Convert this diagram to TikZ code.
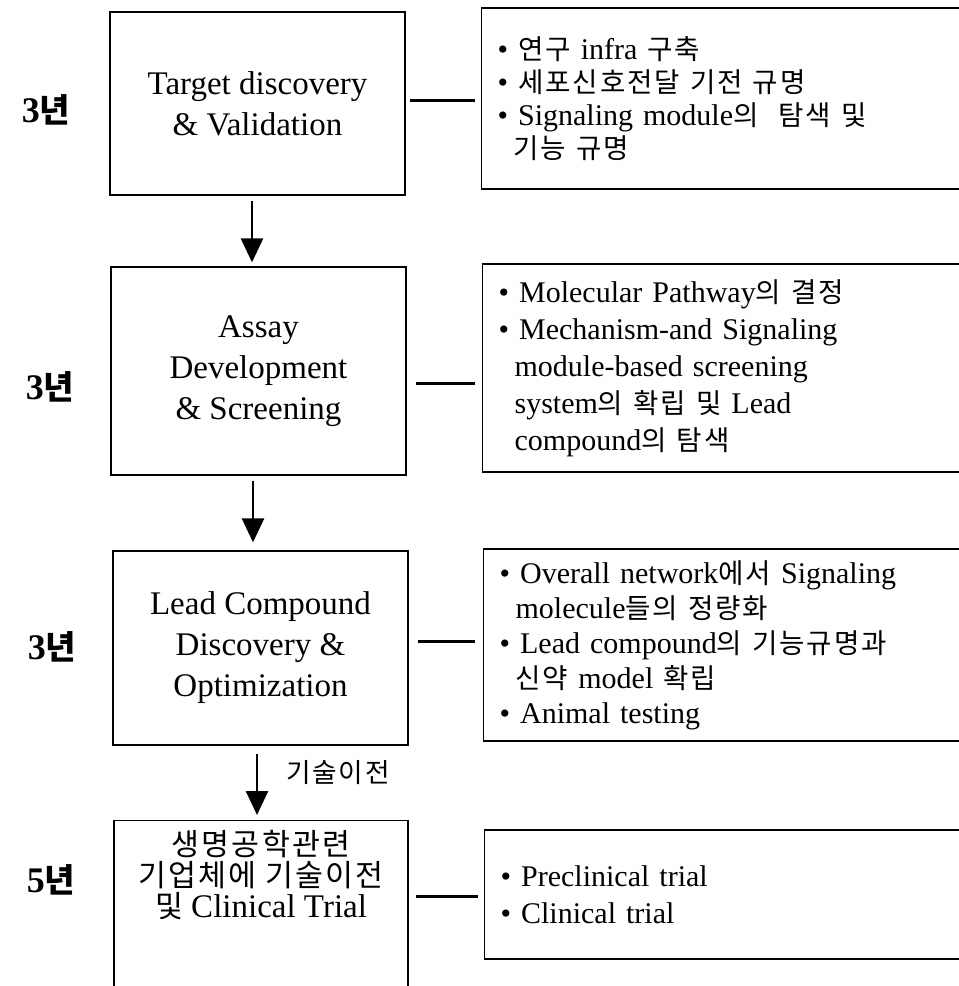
\documentclass[tikz,border=0pt]{standalone}
\usepackage{fontspec}
\setmainfont{Liberation Serif}
\newfontfamily\kr{Noto Sans CJK KR}[Scale=0.92,LetterSpace=7]
\newcommand{\K}[1]{{\kr #1}}
\newcommand{\cont}{\hspace*{16pt}}
\usetikzlibrary{arrows.meta,calc}
\begin{document}
\begin{tikzpicture}[x=1pt,y=-1pt,
  lbox/.style={draw, line width=1.3pt, minimum width=295pt, align=center, inner sep=0pt,
    font=\fontsize{33}{41}\selectfont},
  rbox/.style={draw, line width=1.3pt, anchor=west, inner xsep=16pt, inner ysep=0pt,
    text width=457pt, align=left},
  conn/.style={line width=3pt},
  flow/.style={line width=2.6pt, -{Triangle[length=24pt,width=22pt]}},
  yr/.style={font=\fontsize{36}{40}\selectfont\bfseries}]
\useasboundingbox (0,0) rectangle (959,986);
\clip (0,0) rectangle (959,986);

% left boxes
\node[lbox, minimum height=183pt] (b1) at (257.5,103.5) {Target discovery\\\& Validation};
\node[lbox, minimum height=208pt] (b2) at (258.5,371) {Assay\\Development\\\& Screening};
\node[lbox, minimum height=194pt] (b3) at (260.5,648) {Lead Compound\\Discovery \&\\Optimization};
\node[lbox, minimum width=294pt, minimum height=190pt, anchor=north] (b4) at (261,820) {};
\node[align=center, font=\fontsize{33}{31}\selectfont] (t4) at (261,875)
  {\K{생명공학관련}\\\K{기업체에 기술이전}\\\K{및} Clinical Trial};

% year labels
\node[yr] (y1) at (46,110) {3\K{년}};
\node[yr] (y2) at (50,387) {3\K{년}};
\node[yr] (y3) at (52,647) {3\K{년}};
\node[yr] (y4) at (51,880) {5\K{년}};

% right boxes
\node[rbox, minimum height=181pt, font=\fontsize{30}{33}\selectfont] (r1) at (481,98.5)
  {\textbullet\ \K{연구} infra \K{구축}\\
   \textbullet\ \K{세포신호전달 기전 규명}\\
   \textbullet\ Signaling module\K{의 \ 탐색 및}\\
   \cont\K{기능 규명}};
\node[rbox, minimum height=208pt, font=\fontsize{30}{37}\selectfont] (r2) at (482,368)
  {\textbullet\ Molecular Pathway\K{의 결정}\\
   \textbullet\ Mechanism-and Signaling\\
   \cont module-based screening\\
   \cont system\K{의 확립 및} Lead\\
   \cont compound\K{의 탐색}};
\node[rbox, minimum height=192pt, font=\fontsize{30}{35}\selectfont] (r3) at (483,645)
  {\textbullet\ Overall network\K{에서} Signaling\\
   \cont molecule\K{들의 정량화}\\
   \textbullet\ Lead compound\K{의 기능규명과}\\
   \cont\K{신약} model \K{확립}\\
   \textbullet\ Animal testing};
\node[rbox, minimum height=129pt, font=\fontsize{30}{37}\selectfont] (r4) at (484,894.5)
  {\textbullet\ Preclinical trial\\
   \textbullet\ Clinical trial};

% flow arrows
\draw[flow] ($(b1.south)+(-5.5,5)$) -- ($(b1.south |- b2.north)+(-5.5,-4)$);
\draw[flow] ($(b2.south)+(-5.5,5)$) -- ($(b2.south |- b3.north)+(-5.5,-8)$);
\draw[flow] ($(b3.south)+(-3.5,8)$) -- ($(b3.south |- b4.north)+(-3.5,-5)$);
\node[anchor=west, font=\fontsize{29}{30}\selectfont] (lbl) at ($(b3.south)+(22,27)$) {\K{기술이전}};

% connectors
\draw[conn] ($(b1.east)+(4,-3.5)$) -- ($(r1.west |- b1.east)+(-6,-3.5)$);
\draw[conn] ($(b2.east)+(9,12)$) -- ($(r2.west |- b2.east)+(-7,12)$);
\draw[conn] ($(b3.east)+(9,-7)$) -- ($(r3.west |- b3.east)+(-8,-7)$);
\draw[conn] ($(b4.east |- r4.west)+(7,1.5)$) -- ($(r4.west)+(-6,1.5)$);
\end{tikzpicture}
\end{document}
